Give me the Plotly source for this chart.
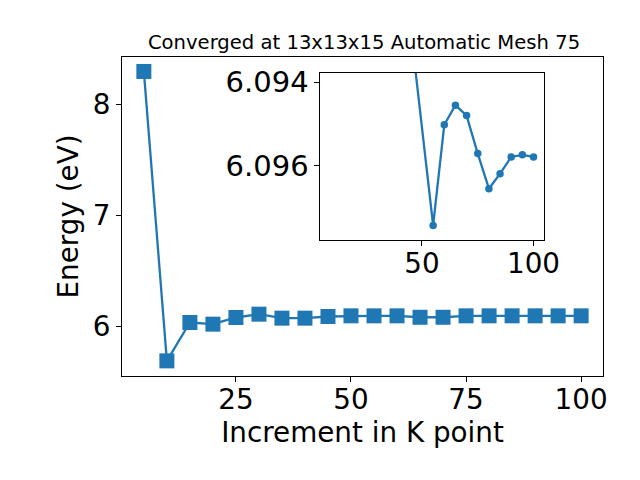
import plotly.graph_objects as go

# ---- data ----
kpoints = [5, 10, 15, 20, 25, 30, 35, 40, 45, 50, 55, 60, 65, 70, 75, 80, 85, 90, 95, 100]
energy = [8.293, 5.691, 6.036, 6.021, 6.081, 6.111, 6.075, 6.075, 6.090, 6.096,
          6.096, 6.096, 6.083, 6.083, 6.096, 6.096, 6.096, 6.096, 6.096, 6.096]

inset_k = [45, 55, 60, 65, 70, 75, 80, 85, 90, 95, 100]
inset_energy = [6.09275, 6.09743, 6.09502, 6.09455, 6.09480, 6.09571, 6.09655,
                6.09619, 6.09579, 6.09574, 6.09579]

title_text = "Converged at 13x13x15 Automatic Mesh 75"
xlabel = "Increment in K point"
ylabel = "Energy (eV)"

C = "#1f77b4"
FONT = "DejaVu Sans"
TICK = 27.8

fig = go.Figure()
fig.add_trace(go.Scatter(
    x=kpoints, y=energy, mode="lines+markers",
    line=dict(color=C, width=2.3),
    marker=dict(symbol="square", size=15, color=C),
    xaxis="x", yaxis="y", showlegend=False,
))
fig.add_trace(go.Scatter(
    x=inset_k, y=inset_energy, mode="lines+markers",
    line=dict(color=C, width=2.3),
    marker=dict(symbol="circle", size=7.5, color=C),
    xaxis="x2", yaxis="y2", showlegend=False,
))

axis_common = dict(
    showline=True, mirror=True, linecolor="black", linewidth=1.1,
    ticks="outside", ticklen=5, tickwidth=1.1, tickcolor="black",
    showgrid=False, zeroline=False,
)

fig.update_layout(
    width=640, height=480,
    paper_bgcolor="white", plot_bgcolor="white",
    margin=dict(l=114, r=45, t=49, b=112, autoexpand=False),
    font=dict(family=FONT, color="black"),
    title=dict(text=title_text, x=356 / 640, xanchor="center", y=1 - 34 / 480,
               yanchor="middle", yref="container",
               font=dict(family=FONT, size=19.6, color="black")),
    xaxis=dict(range=[0.25, 104.75], tickvals=[25, 50, 75, 100], ticklabelstandoff=-6,
               tickfont=dict(family=FONT, size=TICK, color="black"),
               title=dict(text=xlabel, font=dict(family=FONT, size=27.8), standoff=4),
               **axis_common),
    yaxis=dict(range=[5.555, 8.423], tickvals=[6, 7, 8],
               tickfont=dict(family=FONT, size=TICK, color="black"),
               title=dict(text=ylabel, font=dict(family=FONT, size=27.8), standoff=5),
               **axis_common),
    xaxis2=dict(domain=[0.4126, 0.8769], anchor="y2", range=[4.5, 104.6],
                tickvals=[50, 100], ticklabelstandoff=-7,
                tickfont=dict(family=FONT, size=TICK, color="black"),
                **axis_common),
    yaxis2=dict(domain=[0.426, 0.95], anchor="x2", range=[6.09778, 6.09378],
                tickvals=[6.094, 6.096], ticktext=["6.094", "6.096"],
                tickfont=dict(family=FONT, size=29, color="black"),
                **axis_common),
)

fig.write_html("out.html")
